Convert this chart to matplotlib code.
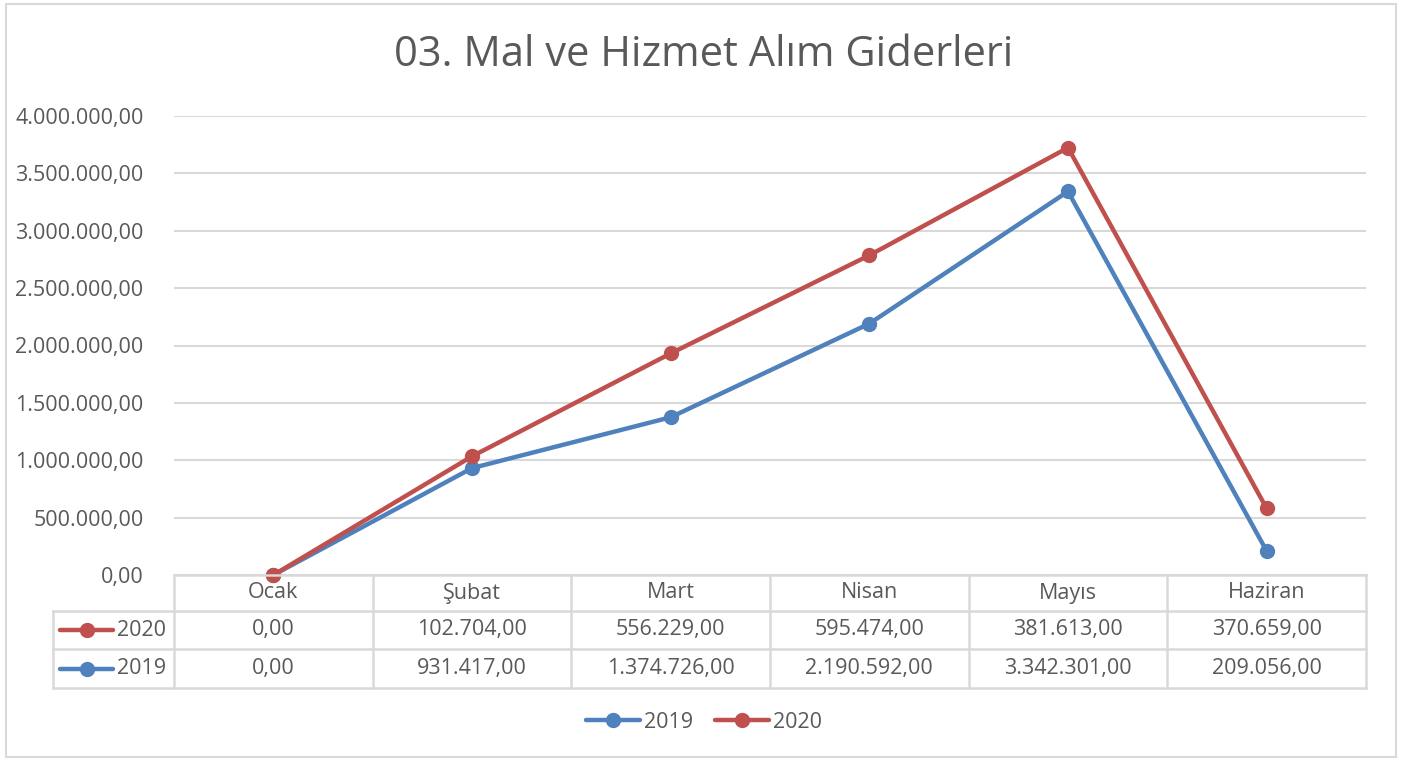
import matplotlib.pyplot as plt
from matplotlib.lines import Line2D
from matplotlib.transforms import blended_transform_factory

# data
months = ['Ocak', 'Şubat', 'Mart', 'Nisan', 'Mayıs', 'Haziran']
y2019 = [0, 931417, 1374726, 2190592, 3342301, 209056]
y2020 = [0, 102704, 556229, 595474, 381613, 370659]
yticks = [0, 500000, 1000000, 1500000, 2000000, 2500000, 3000000, 3500000, 4000000]

blue = '#4F81BD'
red = '#C0504D'
txt = '#595959'
grid = '#D9D9D9'
fs = 15.5

plt.rcParams['font.family'] = ['Open Sans', 'DejaVu Sans']

W, H = 1408, 762
fig = plt.figure(figsize=(W / 100, H / 100), dpi=100)

def fx(px):
    return px / W

def fy(py):
    return 1 - py / H

# axes placed to match plot area in pixels
ax = fig.add_axes([fx(174), fy(575), fx(1366) - fx(174), fy(116) - fy(575)])

def tr_fmt(v):
    s = f'{v:,.2f}'
    return s.replace(',', 'X').replace('.', ',').replace('X', '.')

# stacked line: 2020 drawn on top of 2019
stack2020 = [a + b for a, b in zip(y2019, y2020)]
x = list(range(len(months)))
ax.plot(x, y2019, color=blue, lw=3.2, marker='o', ms=10, solid_capstyle='round',
        zorder=3, clip_on=False)
ax.plot(x, stack2020, color=red, lw=3.2, marker='o', ms=10, solid_capstyle='round',
        zorder=4, clip_on=False)

ax.set_xlim(-0.5, len(months) - 0.5)
ax.set_ylim(0, 4000000)
ax.set_yticks(yticks)
ax.set_yticklabels([tr_fmt(v) for v in yticks], color=txt, fontsize=fs)
ax.tick_params(axis='y', length=0, pad=22)
ax.set_xticks([])
for s in ax.spines.values():
    s.set_visible(False)
ax.grid(axis='y', color=grid, lw=1.5)
ax.set_axisbelow(True)

# title
fig.text(0.5, fy(55), '03. Mal ve Hizmet Alım Giderleri', ha='center', va='center',
         fontsize=30, color=txt)

# data table
bt = blended_transform_factory(ax.transData, fig.transFigure)
rows_y = [575, 611, 649, 688]
tab_kw = dict(color=grid, lw=1.8, clip_on=False)
fig.add_artist(Line2D([fx(174), fx(1366)], [fy(575), fy(575)], **tab_kw))
for py in rows_y[1:]:
    fig.add_artist(Line2D([fx(53), fx(1366)], [fy(py), fy(py)], **tab_kw))
for i in range(len(months) + 1):
    ax.add_line(Line2D([i - 0.5, i - 0.5], [fy(575), fy(688)], transform=bt, zorder=1, **tab_kw))
fig.add_artist(Line2D([fx(53), fx(53)], [fy(611), fy(688)], **tab_kw))

mid = lambda a, b: (fy(a) + fy(b)) / 2
for i, m in enumerate(months):
    ax.text(i, mid(575, 611), m, transform=bt, ha='center', va='center', fontsize=fs, color=txt)
    ax.text(i, mid(611, 649), tr_fmt(y2020[i]), transform=bt, ha='center', va='center', fontsize=fs, color=txt)
    ax.text(i, mid(649, 688), tr_fmt(y2019[i]), transform=bt, ha='center', va='center', fontsize=fs, color=txt)

for label, col, a, b in [('2020', red, 611, 649), ('2019', blue, 649, 688)]:
    yy = mid(a, b)
    fig.add_artist(Line2D([fx(60), fx(113)], [yy, yy], color=col, lw=3.2, solid_capstyle='round'))
    fig.add_artist(Line2D([fx(87)], [yy], color=col, marker='o', ms=10, lw=0))
    fig.text(fx(117), yy, label, ha='left', va='center', fontsize=fs, color=txt)

# legend
handles = [Line2D([], [], color=blue, lw=3.2, marker='o', ms=10, solid_capstyle='round'),
           Line2D([], [], color=red, lw=3.2, marker='o', ms=10, solid_capstyle='round')]
fig.legend(handles, ['2019', '2020'], loc='center', bbox_to_anchor=(fx(704), fy(722)),
           ncol=2, frameon=False, fontsize=fs, labelcolor=txt, handlelength=2.5,
           handletextpad=0.2, columnspacing=1.0)

# chart border
fig.add_artist(plt.Rectangle((fx(6), fy(757)), fx(1396) - fx(6), fy(4) - fy(757),
                             fill=False, edgecolor=grid, lw=1.5))

fig.savefig('out.png', dpi=100)
